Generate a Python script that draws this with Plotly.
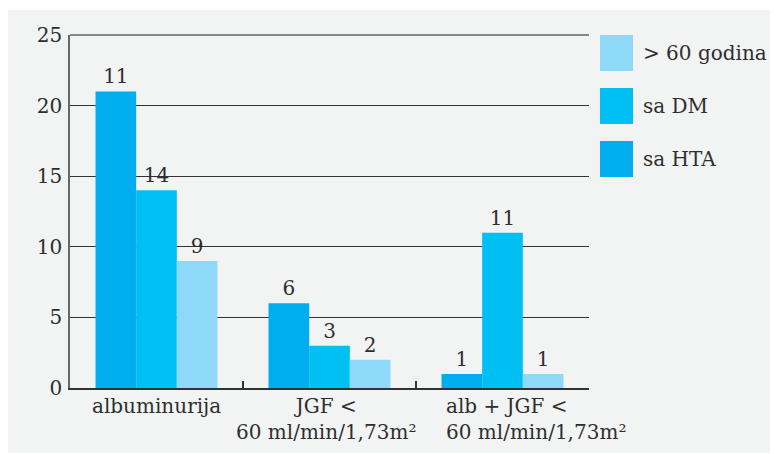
import plotly.graph_objects as go

categories = ["albuminurija", "JGF <<br>60 ml/min/1,73m²", "alb + JGF <<br>60 ml/min/1,73m²"]
series_names = ["sa HTA", "sa DM", "> 60 godina"]
values_hta = [21, 6, 1]
values_dm = [14, 3, 11]
values_60 = [9, 2, 1]
labels_hta = ["11", "6", "1"]
labels_dm = ["14", "3", "11"]
labels_60 = ["9", "2", "1"]
colors = ["#00adee", "#00bff3", "#8fd9f8"]

# page body has an 8px margin, so the figure is laid out in page coords minus 8
OFF = 8
W, H = 778 - OFF, 454 - OFF
L, R, T, B = 70 - OFF, 778 - 589, 35 - OFF, 454 - 388
pw, ph = W - L - R, H - T - B

def px_x(p):
    return (p - OFF - L) / pw

def px_y(p):
    return (H - B - (p - OFF)) / ph

FONT = "DejaVu Serif"
TXT = "#2e2e2e"

fig = go.Figure()
for name, vals, labs, col in zip(series_names,
                                 [values_hta, values_dm, values_60],
                                 [labels_hta, labels_dm, labels_60],
                                 colors):
    fig.add_trace(go.Bar(
        x=categories, y=vals, name=name, marker=dict(color=col, line=dict(width=0)),
        text=labs, textposition="outside", texttemplate="%{text}",
        textfont=dict(family=FONT, size=20, color=TXT),
        cliponaxis=False, showlegend=False,
    ))

shapes = [dict(type="rect", xref="paper", yref="paper",
               x0=px_x(8), x1=px_x(800), y0=px_y(453), y1=px_y(10),
               fillcolor="#f2f3f3", line=dict(width=0), layer="below"),
          dict(type="line", xref="paper", yref="paper", x0=0, x1=1, y0=1, y1=1,
               line=dict(color="#666666", width=1.5))]
annotations = []
legend_rows = [(35, 71, 53, "> 60 godina", colors[2]),
               (88, 124, 106, "sa DM", colors[1]),
               (141, 177, 159, "sa HTA", colors[0])]
for y0, y1, yc, name, col in legend_rows:
    shapes.append(dict(type="rect", xref="paper", yref="paper",
                       x0=px_x(600), x1=px_x(633), y0=px_y(y1), y1=px_y(y0),
                       fillcolor=col, line=dict(width=0)))
    annotations.append(dict(xref="paper", yref="paper", x=px_x(641), y=px_y(yc),
                            text=name, showarrow=False, xanchor="left", yanchor="middle",
                            font=dict(family=FONT, size=20, color=TXT)))

# category labels under the axis
label_style = [("center", "center", 0), ("center", "center", -4), ("left", "left", -59)]
for cat, (xa, al, xs) in zip(categories, label_style):
    annotations.append(dict(xref="x", yref="paper", x=cat, y=0, text=cat,
                            showarrow=False, xanchor=xa, align=al, yanchor="top",
                            xshift=xs, yshift=-4,
                            font=dict(family=FONT, size=20, color=TXT)))

fig.update_layout(
    width=W, height=H,
    margin=dict(l=L, r=R, t=T, b=B, autoexpand=False),
    paper_bgcolor="white", plot_bgcolor="rgba(0,0,0,0)",
    barmode="group", bargap=0.295, bargroupgap=0,
    font=dict(family=FONT, size=20, color=TXT),
    shapes=shapes, annotations=annotations,
    showlegend=False,
)
fig.update_xaxes(
    range=[-0.5, len(categories) - 0.5], autorange=False,
    showline=True, linecolor="#333333", linewidth=2, automargin=False,
    ticks="inside", tickson="boundaries", ticklen=7, tickcolor="#333333", tickwidth=1.5,
    showgrid=False, showticklabels=False,
)
fig.update_yaxes(
    range=[0, 25], dtick=5, showgrid=True, gridcolor="#333333", gridwidth=1.3, automargin=False,
    zeroline=False, showline=True, linecolor="#666666", linewidth=1.5,
    ticks="", ticklabelstandoff=2, tickfont=dict(family=FONT, size=20, color=TXT),
)

fig.write_html("out.html")
